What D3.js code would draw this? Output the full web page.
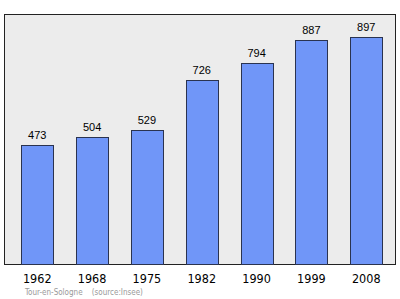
<!DOCTYPE html>
<html><head><meta charset="utf-8">
<script src="https://cdn.jsdelivr.net/npm/d3@7"></script>
<style>body{margin:0;background:#fff}svg{display:block}</style>
</head><body>
<script>
const years = ["1962","1968","1975","1982","1990","1999","2008"];
const population = [473,504,529,726,794,887,897];
const sourceText = "Tour-en-Sologne    (source:Insee)";

const W = 400, H = 299;
const plot = {left:4.5, top:14.5, right:395.5, bottom:264.5};
const svg = d3.select("body").append("svg").attr("width",W).attr("height",H);

svg.append("rect").attr("x",plot.left).attr("y",plot.top)
  .attr("width",plot.right-plot.left).attr("height",plot.bottom-plot.top)
  .attr("fill","#ececec").attr("stroke","#222").attr("stroke-width",1);

const x = d3.scaleBand().domain(years).range([plot.left+3,plot.right+0.5]).paddingInner(0.415).paddingOuter(0.25);
const y = d3.scaleLinear().domain([0,986]).range([plot.bottom,plot.top]);

svg.selectAll("rect.bar").data(years).enter().append("rect").attr("class","bar")
  .attr("x",d=>Math.round(x(d))+0.5).attr("width",Math.round(x.bandwidth()))
  .attr("y",(d,i)=>Math.round(y(population[i]))+0.5)
  .attr("height",(d,i)=>plot.bottom-Math.round(y(population[i]))-0.5)
  .attr("fill","#7096f8").attr("stroke","#2a3350").attr("stroke-width",1);

svg.selectAll("text.val").data(years).enter().append("text").attr("class","val")
  .attr("x",d=>x(d)+x.bandwidth()/2).attr("y",(d,i)=>y(population[i])-6)
  .attr("text-anchor","middle").attr("font-family","Liberation Sans, Arial, sans-serif")
  .attr("font-size",11).attr("fill","#000").text((d,i)=>population[i]);

const axis = d3.axisBottom(x).tickSize(0).tickPadding(0);
const ax = svg.append("g").attr("transform",`translate(0,${plot.bottom})`).call(axis);
ax.select(".domain").remove();
ax.selectAll("text").attr("font-family","DejaVu Sans Condensed, DejaVu Sans, sans-serif").attr("font-size",12.5)
  .attr("fill","#000").attr("dy",0).attr("y",18);

svg.append("text").attr("x",25).attr("y",295).attr("font-family","DejaVu Sans Condensed, DejaVu Sans, sans-serif")
  .attr("font-size",8).attr("fill","#999").attr("xml:space","preserve").style("white-space","pre").text(sourceText);
</script>
</body></html>
